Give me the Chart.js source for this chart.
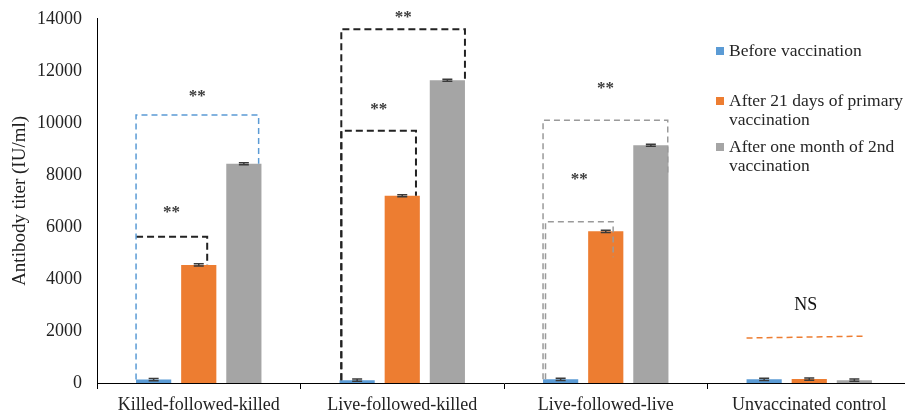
<!DOCTYPE html>
<html>
<head>
<meta charset="utf-8">
<script src="https://cdn.jsdelivr.net/npm/chart.js@4.4.0/dist/chart.umd.min.js"></script>
<style>
  html, body { margin: 0; padding: 0; background: #fff; overflow: hidden; }
  #page { position: relative; width: 905px; height: 414px; overflow: hidden; }
  #wrap { position: absolute; left: 0; top: -7px; width: 912px; height: 421px; }
  #legend { position: absolute; left: 716px; top: 41px; font-family: "Liberation Serif", serif; font-size: 17.5px; color: #262626; }
  .item { display: flex; align-items: flex-start; width: 192px; line-height: 19px; }
  .sw { width: 8px; height: 8px; margin-top: 6px; margin-right: 5px; flex: none; }
</style>
</head>
<body>
<div id="page">
  <div id="wrap"><canvas id="chart"></canvas></div>
  <div id="legend"></div>
</div>
<script>
const categories = ['Killed-followed-killed', 'Live-followed-killed', 'Live-followed-live', 'Unvaccinated control'];
const seriesNames = ['Before vaccination', 'After 21 days of primary vaccination', 'After one month of 2nd vaccination'];
const beforeVacc = [130, 110, 140, 140];
const after21Days = [4540, 7200, 5830, 150];
const afterSecond = [8430, 11640, 9140, 110];
const beforeErr = [40, 40, 40, 40];
const after21Err = [40, 40, 40, 40];
const afterSecondErr = [40, 40, 40, 40];
const yTicks = { min: 0, max: 14000, step: 2000 };

// significance brackets (values in data units)
const brackets = [
  { cat: 0, from: 0, to: 1, fromFrac: 0, toFrac: 0.74, level: 5620, leftEnd: null, rightEnd: 4540, color: '#222', width: 2, dash: [7, 4], label: '**', labelAt: 6560 },
  { cat: 0, from: 0, to: 2, fromFrac: 0, toFrac: 0.92, level: 10300, leftEnd: 130, rightEnd: 8430, color: '#5b9bd5', width: 1.5, dash: [6, 4], label: '**', labelAt: 11020 },
  { cat: 1, from: 0, to: 1, fromFrac: 0.05, toFrac: 0.89, level: 9700, leftEnd: 110, rightEnd: 7200, color: '#222', width: 2, dash: [7, 4], label: '**', labelAt: 10500 },
  { cat: 1, from: 0, to: 2, fromFrac: 0.05, toFrac: 1, level: 13600, leftEnd: 110, rightEnd: 11640, color: '#222', width: 2, dash: [7, 4], label: '**', labelAt: 14030 },
  { cat: 2, from: 0, to: 1, fromFrac: 0.07, toFrac: 0.71, level: 6200, leftEnd: 140, rightEnd: 4830, color: '#9a9a9a', width: 1.5, dash: [6, 4], label: '**', labelAt: 7820 },
  { cat: 2, from: 0, to: 2, fromFrac: 0, toFrac: 0.98, level: 10100, leftEnd: 140, rightEnd: 7950, color: '#9a9a9a', width: 1.5, dash: [6, 4], label: '**', labelAt: 11300 },
  { cat: 3, from: 0, to: 2, fromFrac: 0, toFrac: 0.8, level: 1730, levelRight: 1800, leftEnd: null, rightEnd: null, color: '#ed7d31', width: 1.5, dash: [6, 4], label: 'NS', labelAt: 2980 }
];

const colors = ['#5b9bd5', '#ed7d31', '#a5a5a5'];
const values = [beforeVacc, after21Days, afterSecond];
const errors = [beforeErr, after21Err, afterSecondErr];

Chart.defaults.font.family = '"Liberation Serif", "Times New Roman", serif';

const errorBarPlugin = {
  id: 'errorBars',
  afterDatasetsDraw(chart) {
    const ctx = chart.ctx, y = chart.scales.y;
    chart.data.datasets.forEach((ds, i) => {
      chart.getDatasetMeta(i).data.forEach((bar, j) => {
        const v = ds.data[j], e = errors[i][j];
        const top = y.getPixelForValue(v + e), bot = y.getPixelForValue(v - e);
        ctx.save();
        ctx.strokeStyle = '#3a3a3a';
        ctx.lineWidth = 1.5;
        ctx.beginPath();
        ctx.moveTo(bar.x, top); ctx.lineTo(bar.x, bot);
        ctx.moveTo(bar.x - 5, top); ctx.lineTo(bar.x + 5, top);
        ctx.moveTo(bar.x - 5, bot); ctx.lineTo(bar.x + 5, bot);
        ctx.stroke();
        ctx.restore();
      });
    });
  }
};

const bracketPlugin = {
  id: 'brackets',
  afterDatasetsDraw(chart) {
    const ctx = chart.ctx, y = chart.scales.y;
    const barX = (ds, cat, frac) => {
      const el = chart.getDatasetMeta(ds).data[cat];
      return el.x - el.width / 2 + el.width * frac;
    };
    brackets.forEach(b => {
      const x1 = barX(b.from, b.cat, b.fromFrac);
      const x2 = barX(b.to, b.cat, b.toFrac);
      const y1 = y.getPixelForValue(b.level);
      const y2 = y.getPixelForValue(b.levelRight != null ? b.levelRight : b.level);
      ctx.save();
      ctx.strokeStyle = b.color;
      ctx.lineWidth = b.width;
      ctx.setLineDash(b.dash);
      ctx.beginPath();
      if (b.leftEnd != null) {
        ctx.moveTo(x1, y.getPixelForValue(b.leftEnd));
        ctx.lineTo(x1, y1);
      } else {
        ctx.moveTo(x1, y1);
      }
      ctx.lineTo(x2, y2);
      if (b.rightEnd != null) ctx.lineTo(x2, y.getPixelForValue(b.rightEnd));
      ctx.stroke();
      ctx.setLineDash([]);
      const isNS = b.label === 'NS';
      ctx.fillStyle = isNS ? '#111' : '#3c3c3c';
      ctx.font = isNS ? '18px "Liberation Serif", serif' : 'bold 17px "Liberation Serif", serif';
      ctx.textAlign = 'center';
      ctx.textBaseline = 'middle';
      ctx.fillText(b.label, (x1 + x2) / 2, y.getPixelForValue(b.labelAt));
      ctx.restore();
    });
  }
};

const chart = new Chart(document.getElementById('chart'), {
  type: 'bar',
  data: {
    labels: categories,
    datasets: seriesNames.map((name, i) => ({
      label: name,
      data: values[i],
      backgroundColor: colors[i],
      categoryPercentage: 0.665,
      barPercentage: 0.78
    }))
  },
  options: {
    responsive: true,
    maintainAspectRatio: false,
    animation: false,
    layout: { padding: { left: 9, right: 1, top: 0, bottom: 0 } },
    plugins: { legend: { display: false }, tooltip: { enabled: false } },
    scales: {
      x: {
        afterFit(scale) { scale.height = 31; },
        grid: { display: true, drawOnChartArea: false, drawTicks: true, tickLength: 6, color: '#000', offset: true },
        border: { display: true, color: '#000', width: 1 },
        ticks: { color: '#222', padding: 5, font: { size: 18 } }
      },
      y: {
        min: yTicks.min,
        max: yTicks.max,
        afterFit(scale) { scale.width = 88; },
        grid: { display: false, drawTicks: false },
        border: { display: true, color: '#000', width: 1 },
        ticks: { stepSize: yTicks.step, padding: 15, color: '#222', font: { size: 18 }, callback: v => String(v) },
        title: { display: true, text: 'Antibody titer (IU/ml)', color: '#222', font: { size: 19 }, padding: { top: 0, bottom: 8 } }
      }
    }
  },
  plugins: [errorBarPlugin, bracketPlugin]
});

// html legend built from the datasets
const legendEl = document.getElementById('legend');
const gaps = [31, 8, 0];
chart.data.datasets.forEach((ds, i) => {
  const item = document.createElement('div');
  item.className = 'item';
  item.style.marginBottom = gaps[i] + 'px';
  const sw = document.createElement('span');
  sw.className = 'sw';
  sw.style.background = ds.backgroundColor;
  const txt = document.createElement('span');
  txt.textContent = ds.label;
  item.appendChild(sw);
  item.appendChild(txt);
  legendEl.appendChild(item);
});
</script>
</body>
</html>
